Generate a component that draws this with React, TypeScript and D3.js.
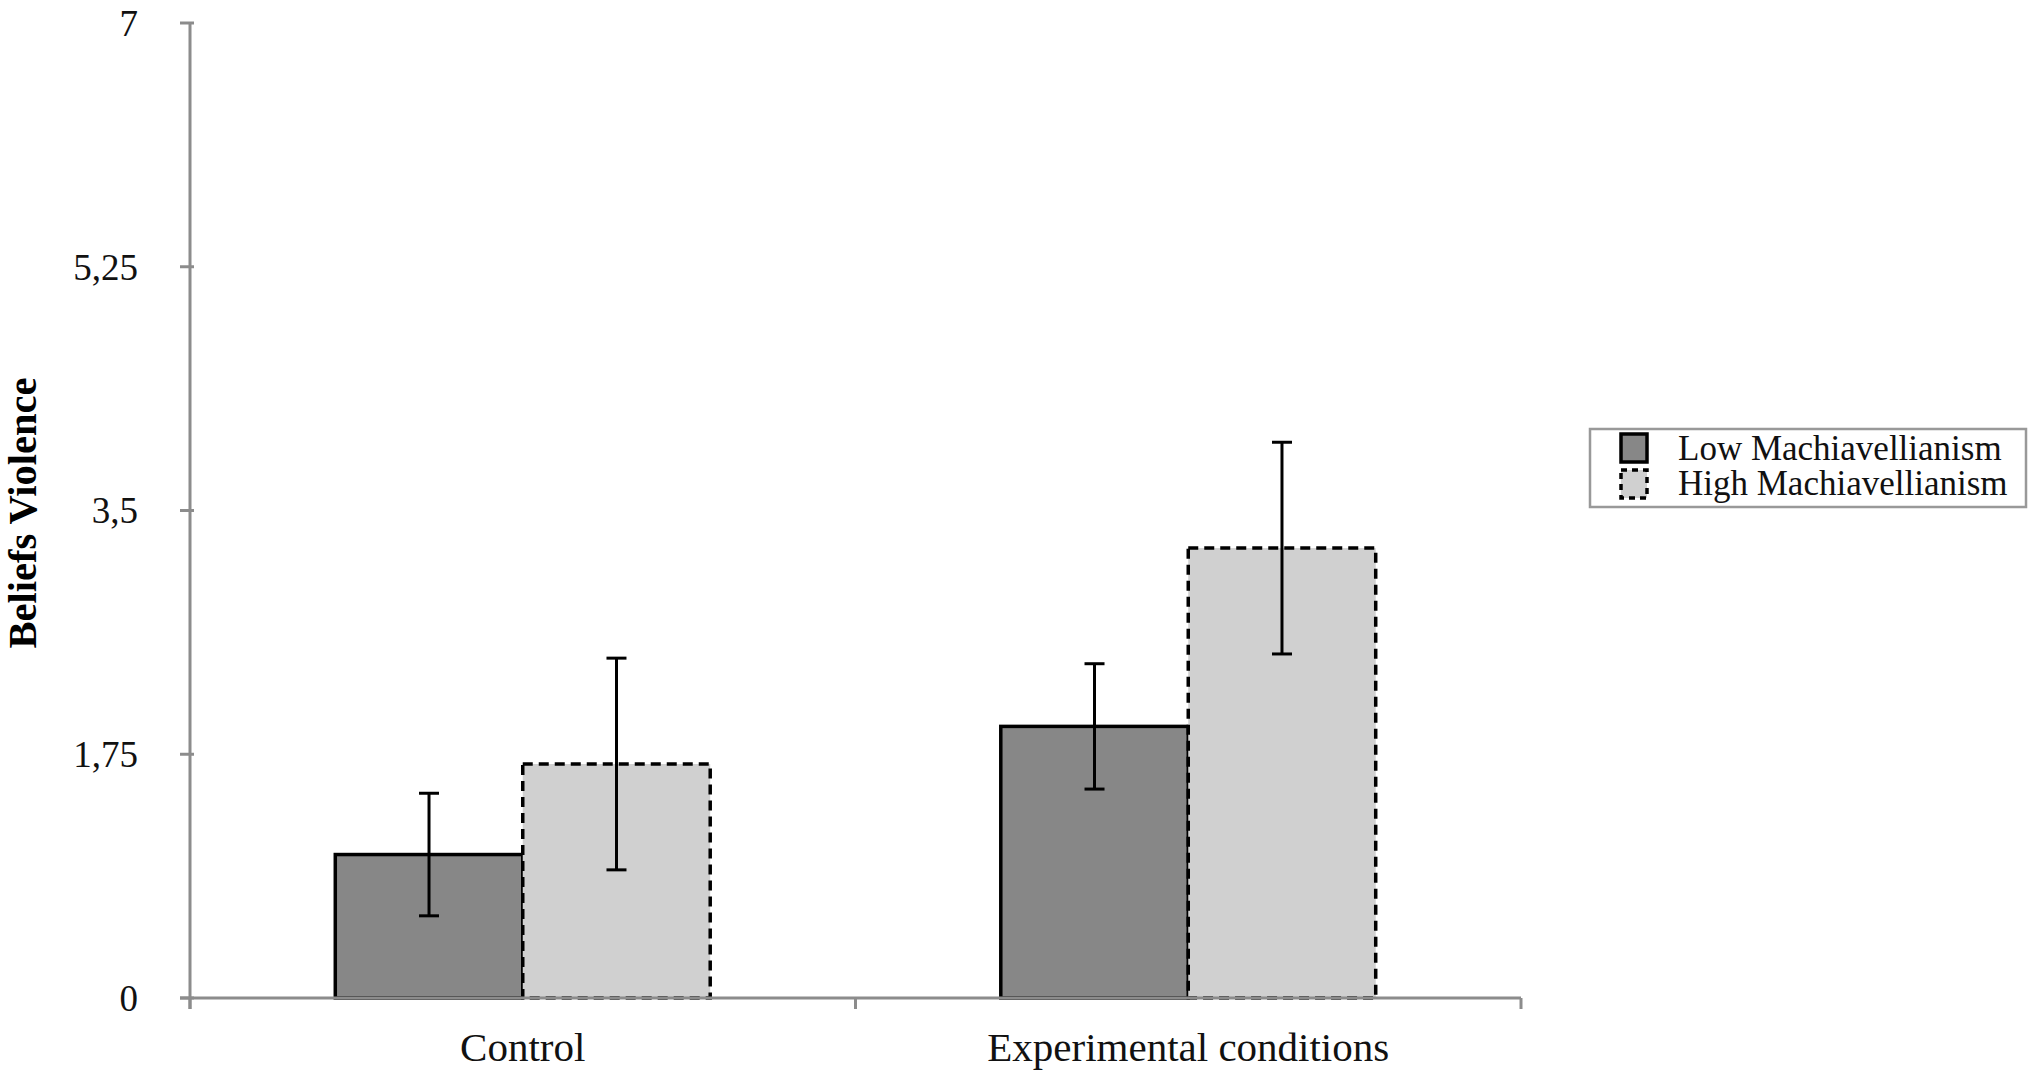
import * as d3 from 'd3';

const categories = ['Control', 'Experimental conditions'];
const series = ['Low Machiavellianism', 'High Machiavellianism'];
const lowMeans = [1.03, 1.95];
const highMeans = [1.68, 3.23];
const lowErrors = [0.44, 0.45];
const highErrors = [0.76, 0.76];
const yTicks = [0, 1.75, 3.5, 5.25, 7];

const fills = ['#878787', '#d0d0d0'];
const dashes = ['none', '10,6'];
const font = '"Liberation Serif", "Times New Roman", serif';
const axisColor = '#8c8c8c';

export default function App() {
  const width = 2032;
  const height = 1070;
  const x0 = d3.scaleBand<string>().domain(categories).range([190, 1521]).padding(0);
  const x1 = d3.scaleBand<string>().domain(series).range([0, x0.bandwidth()]).paddingInner(0).paddingOuter(0.775);
  const y = d3.scaleLinear().domain([0, 7]).range([998, 23]);

  const rows = categories.map((c, i) => ({
    category: c,
    bars: [
      { key: series[0], mean: lowMeans[i], err: lowErrors[i], idx: 0 },
      { key: series[1], mean: highMeans[i], err: highErrors[i], idx: 1 },
    ],
  }));

  const xBounds = [...categories.map((c) => x0(c) ?? 0), x0.range()[1]];

  return (
    <div style={{ position: 'absolute', left: 0, top: 0 }}>
      <svg width={width} height={height} viewBox={`0 0 ${width} ${height}`} style={{ display: 'block', background: '#fff' }}>
        {/* bars */}
        {rows.map((r) =>
          r.bars.map((b) => {
            const bx = (x0(r.category) ?? 0) + (x1(b.key) ?? 0);
            return (
              <rect
                key={r.category + b.key}
                x={bx}
                y={y(b.mean)}
                width={x1.bandwidth()}
                height={y(0) - y(b.mean)}
                fill={fills[b.idx]}
                stroke="#000"
                strokeWidth={3.5}
                strokeDasharray={dashes[b.idx]}
              />
            );
          })
        )}
        {/* error bars */}
        {rows.map((r) =>
          r.bars.map((b) => {
            const cx = (x0(r.category) ?? 0) + (x1(b.key) ?? 0) + x1.bandwidth() / 2;
            const top = y(b.mean + b.err);
            const bot = y(b.mean - b.err);
            return (
              <g key={'e' + r.category + b.key} stroke="#000" strokeWidth={3}>
                <line x1={cx} x2={cx} y1={top} y2={bot} />
                <line x1={cx - 10} x2={cx + 10} y1={top} y2={top} />
                <line x1={cx - 10} x2={cx + 10} y1={bot} y2={bot} />
              </g>
            );
          })
        )}
        {/* y axis */}
        <line x1={190} x2={190} y1={y(7)} y2={y(0) + 11} stroke={axisColor} strokeWidth={3} />
        {yTicks.map((t) => (
          <g key={t}>
            <line x1={180} x2={194} y1={y(t)} y2={y(t)} stroke={axisColor} strokeWidth={3} />
            <text x={138} y={y(t)} dy="0.35em" textAnchor="end" fontFamily={font} fontSize={37} fill="#111">
              {String(t).replace('.', ',')}
            </text>
          </g>
        ))}
        {/* x axis */}
        <line x1={180} x2={x0.range()[1]} y1={y(0)} y2={y(0)} stroke={axisColor} strokeWidth={3} />
        {xBounds.map((bx, i) => (
          <line key={i} x1={bx} x2={bx} y1={y(0)} y2={y(0) + 11} stroke={axisColor} strokeWidth={3} />
        ))}
        {categories.map((c) => (
          <text
            key={c}
            x={(x0(c) ?? 0) + x0.bandwidth() / 2}
            y={1061}
            textAnchor="middle"
            fontFamily={font}
            fontSize={41}
            fill="#111"
          >
            {c}
          </text>
        ))}
        {/* y label */}
        <text
          transform="translate(36,513) rotate(-90)"
          textAnchor="middle"
          fontFamily={font}
          fontSize={40.5}
          fontWeight="bold"
          fill="#000"
        >
          Beliefs Violence
        </text>
        {/* legend */}
        <rect x={1590} y={429} width={436} height={78} fill="#fff" stroke="#999" strokeWidth={2.5} />
        {series.map((s, i) => (
          <g key={s}>
            <rect
              x={1621}
              y={434 + i * 36}
              width={26}
              height={28}
              fill={fills[i]}
              stroke="#000"
              strokeWidth={3.5}
              strokeDasharray={i === 1 ? '6,5' : 'none'}
            />
            <text x={1678} y={460 + i * 35} fontFamily={font} fontSize={35} fill="#111">
              {s}
            </text>
          </g>
        ))}
      </svg>
    </div>
  );
}
